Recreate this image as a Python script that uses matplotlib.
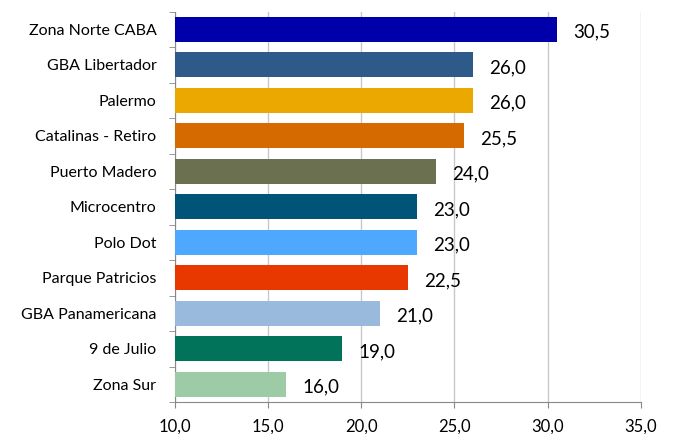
import matplotlib.pyplot as plt

categories = ["Zona Norte CABA", "GBA Libertador", "Palermo", "Catalinas - Retiro",
              "Puerto Madero", "Microcentro", "Polo Dot", "Parque Patricios",
              "GBA Panamericana", "9 de Julio", "Zona Sur"]
values = [30.5, 26.0, 26.0, 25.5, 24.0, 23.0, 23.0, 22.5, 21.0, 19.0, 16.0]
colors = ["#0000AA", "#2E5A8A", "#EAA800", "#D46A00", "#6B7050", "#005478",
          "#4FA8FF", "#E83800", "#99B9DD", "#00735A", "#9DCBA6"]
xticks = [10, 15, 20, 25, 30, 35]

plt.rcParams['font.family'] = ['Lato', 'DejaVu Sans']

fig = plt.figure(figsize=(6.73, 4.34), dpi=100)
ax = fig.add_axes([174.5/673, 1 - 402/434, (641 - 174.5)/673, (402 - 11.5)/434])

ypos = list(range(len(categories)))
ax.barh(ypos, [v - 10 for v in values], left=10, height=0.70, color=colors, zorder=3)

for y, v in zip(ypos, values):
    ax.annotate(f"{v:.1f}".replace(".", ","), (v, y), xytext=(11.5, -2), textcoords="offset points",
                ha="left", va="center", fontsize=13.5, color="black")

ax.set_xlim(10, 35)
ax.set_ylim(len(categories) - 0.5, -0.5)
ax.set_xticks(xticks)
ax.set_xticklabels([f"{t:.1f}".replace(".", ",") for t in xticks], fontsize=12)
ax.set_yticks(ypos)
ax.set_yticklabels(categories, fontsize=11.5)
ax.tick_params(axis="y", length=0, pad=13)
ax.set_yticks([i - 0.5 for i in range(len(categories) + 1)], minor=True)
ax.tick_params(axis="y", which="minor", length=4, color="#888888")
ax.tick_params(axis="x", length=4, color="#888888", pad=8)

ax.grid(axis="x", color="#C8C8C8", linewidth=1, zorder=0)
for s in ["top", "right"]:
    ax.spines[s].set_visible(False)
ax.spines["left"].set_color("#888888")
ax.spines["bottom"].set_color("#888888")

fig.savefig("out.png", dpi=100)
